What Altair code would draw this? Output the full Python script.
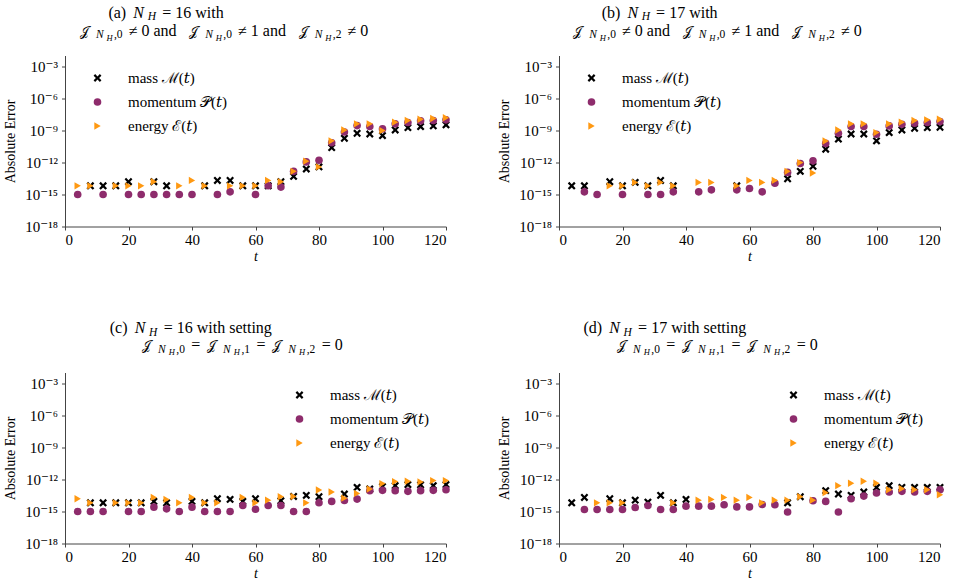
import altair as alt
import pandas as pd

# Sampling times (every 4 time units)
T = list(range(4, 121, 4))
N = None  # no marker drawn at this time

# (a) N_H = 16, general coefficients
a_mass = [N, 6.6e-15, 6.6e-15, 6.6e-15, 1.6e-14, N, 1.6e-14, 6.6e-15, N, N,
          6.6e-15, 2.1e-14, 2.1e-14, 6.6e-15, 6.6e-15, 6.6e-15, 1.6e-14, 5.0e-14, 2.5e-13, 3.9e-13,
          2.5e-11, 1.9e-10, 5.6e-10, 4.8e-10, 3.4e-10, 1.15e-9, 1.9e-9, 2.4e-9, 2.75e-9, 3.5e-9]
a_mom = [1e-15, N, 1e-15, N, 1e-15, 1e-15, 1e-15, 1e-15, 1e-15, 1e-15,
         N, 1e-15, 1.8e-15, N, 1e-15, 6.6e-15, 5.0e-15, 1.5e-13, 1.15e-12, 1.66e-12,
         7.2e-11, 7.4e-10, 2.95e-9, 2.4e-9, 1.45e-9, 4.3e-9, 5.8e-9, 8.3e-9, 8.9e-9, 1.02e-8]
a_energy = [6.6e-15, 6.6e-15, N, 6.6e-15, 6.6e-15, 6.6e-15, 1.6e-14, N, 6.6e-15, 2.1e-14,
            6.6e-15, N, 6.6e-15, 6.6e-15, 6.6e-15, 2.1e-14, 1.6e-14, 1.5e-13, 1.35e-12, 3.9e-13,
            1.1e-10, 1.15e-9, 4.3e-9, 4.3e-9, 1.0e-9, 6.2e-9, 8.9e-9, 1.17e-8, 1.38e-8, 1.6e-8]

# (b) N_H = 17, general coefficients
b_mass = [6.6e-15, 6.6e-15, N, 1.6e-14, 6.6e-15, 1.38e-14, 6.6e-15, 2.1e-14, 6.6e-15, N,
          N, N, N, 6.6e-15, N, N, N, 3.0e-14, 1.5e-13, 4.5e-13,
          1.8e-11, 1.6e-10, 4.8e-10, 4.8e-10, 1.1e-10, 6.5e-10, 1.15e-9, 1.65e-9, 1.9e-9, 2.05e-9]
b_mom = [N, 1.8e-15, 1e-15, N, 1e-15, N, 1e-15, 1e-15, 1.8e-15, N,
         1.8e-15, 2.75e-15, N, 2.75e-15, 3.7e-15, 1.8e-15, 1.17e-14, 1.2e-13, 8.1e-13, 1.45e-12,
         6.3e-11, 5.6e-10, 2.4e-9, 2.4e-9, 4.5e-10, 2.75e-9, 4.0e-9, 5.0e-9, 5.8e-9, 7.1e-9]
b_energy = [N, N, N, 6.6e-15, 6.6e-15, 1.38e-14, 6.6e-15, 1.38e-14, 6.6e-15, N,
            1.38e-14, 1.38e-14, N, 6.6e-15, 2.1e-14, 1.38e-14, 2.1e-14, 1.5e-13, 1.0e-12, 1.05e-13,
            1.05e-10, 1.15e-9, 4.3e-9, 4.3e-9, 6.5e-10, 4.3e-9, 6.2e-9, 8.9e-9, 1.02e-8, 1.17e-8]

# (c) N_H = 16, coefficients set to zero
c_mass = [N, 6.6e-15, 6.6e-15, 6.6e-15, 6.6e-15, 6.6e-15, 8.9e-15, 6.6e-15, N, 8.9e-15,
          6.6e-15, 1.6e-14, 1.38e-14, 8.9e-15, 1.6e-14, N, 1.02e-14, 2.6e-14, 3.3e-14, 2.45e-14,
          N, 4.4e-14, 1.85e-13, 1.3e-13, 2.2e-13, 2.7e-13, 3.4e-13, 3.2e-13, 2.7e-13, 3.4e-13]
c_mom = [1e-15, 1e-15, 1e-15, N, 1e-15, 1e-15, 2.6e-15, 1.8e-15, 1e-15, 2.6e-15,
         1e-15, 1e-15, 1e-15, 3.7e-15, 1.66e-15, 3.7e-15, 3.7e-15, 1e-15, 1e-15, 6.6e-15,
         8.9e-15, 1.1e-14, 1.48e-14, 9.1e-14, 9.8e-14, 9.1e-14, 7.9e-14, 9.1e-14, 9.8e-14, 1.12e-13]
c_energy = [1.6e-14, 6.6e-15, N, 6.6e-15, 6.6e-15, 6.6e-15, 2.1e-14, 1.38e-14, 6.6e-15, 2.1e-14,
            6.6e-15, 6.6e-15, N, 2.1e-14, 6.6e-15, 1.17e-14, 2.45e-14, 2.6e-14, 6.6e-15, 1.05e-13,
            6.8e-14, 1.8e-14, 5.0e-14, 1.3e-13, 4.2e-13, 6.5e-13, 6.9e-13, 6.0e-13, 8.0e-13, 8.0e-13]

# (d) N_H = 17, coefficients set to zero
d_mass = [6.6e-15, 2.1e-14, N, 1.6e-14, 6.6e-15, 1.17e-14, 7.6e-15, 3.3e-14, 6.6e-15, 1.38e-14,
          N, N, N, N, N, N, N, 6.6e-15, 2.45e-14, N,
          9.1e-14, 4.4e-14, 3.3e-14, 6.8e-14, 1.85e-13, 2.7e-13, 1.85e-13, 1.85e-13, 1.85e-13, 1.85e-13]
d_mom = [N, 1.55e-15, 1.55e-15, 1.55e-15, 1.55e-15, 2.4e-15, 3.7e-15, 1.55e-15, 1.55e-15, 3.2e-15,
         3.2e-15, 3.2e-15, 4.3e-15, 2.75e-15, 2.75e-15, 4.6e-15, 4.3e-15, 9e-16, N, 1.02e-14,
         8.9e-15, 9e-16, 1.6e-14, 2.8e-14, 5.5e-14, 6.8e-14, 7.9e-14, 6.8e-14, 7.9e-14, 1.12e-13]
d_energy = [N, N, 6.6e-15, 6.6e-15, 6.6e-15, N, N, N, 6.6e-15, N,
            1.17e-14, 1.38e-14, 2.1e-14, 1.17e-14, 2.1e-14, 6.6e-15, 1.17e-14, 1.17e-14, 2.45e-14, 1.17e-14,
            5.9e-14, 2.7e-13, 4.5e-13, 6.9e-13, 4.5e-13, 1.12e-13, 1.4e-13, 1.12e-13, 1.12e-13, 3.8e-14]

SERIES = ["mass \u2133(\U0001D461)", "momentum \U0001D4AB(\U0001D461)", "energy \u2130(\U0001D461)"]
COLORS = ["#000000", "#8e2c6c", "#ff9912"]
X_PATH = ("M-0.6,-1L0,-0.4L0.6,-1L1,-0.6L0.4,0L1,0.6L0.6,1L0,0.4"
          "L-0.6,1L-1,0.6L-0.4,0L-1,-0.6Z")
SHAPES = [X_PATH, "circle", "triangle-right"]
SIZES = [62, 54, 78]

FONT = "Liberation Serif, DejaVu Serif, serif"
W, H = 381, 171
YTOP = 10 ** -1.95
YTICKS = [1e-18, 1e-15, 1e-12, 1e-9, 1e-6, 1e-3]

SUPER = str.maketrans("-0123456789", "\u207b\u2070\u00b9\u00b2\u00b3\u2074\u2075\u2076\u2077\u2078\u2079")


def tick_expr():
    parts = []
    for e in [-18, -15, -12, -9, -6, -3]:
        parts.append(f"round(log(datum.value)/LN10)=={e}?'10{str(e).translate(SUPER)}'")
    return ":".join(parts) + ":''"


def frame(mass, mom, energy):
    rows = []
    for k, vals in enumerate([mass, mom, energy]):
        for t, v in zip(T, vals):
            if v is not None:
                rows.append({"t": t, "err": v, "series": SERIES[k], "ord": k})
    return pd.DataFrame(rows)


# approximate advance widths (per 1000 em) used to lay out title pieces
TW = {" ": 250, "(": 333, ")": 333, ",": 250, "=": 564, "\u2260": 564, "a": 444, "b": 500,
      "c": 444, "d": 500, "e": 444, "g": 500, "h": 500, "i": 278, "n": 500, "s": 389,
      "t": 278, "w": 722, "N": 780, "H": 760, "J": 444, "\U0001D4A5": 1050}
LEVEL_SIZE = {0: 16, 1: 11.5, 2: 8.5, 3: 13}
LEVEL_DY = {0: 0, 1: 2.5, 2: 5, 3: 0}
ONE = pd.DataFrame({"k": [0]})


def seg_width(text, level):
    return sum(TW.get(c, 500) for c in text) / 1000 * LEVEL_SIZE[level]


def title_line(segs, x0, yb, span):
    widths = [seg_width(s, lv) for s, lv, _ in segs]
    k = span / sum(widths)
    layers = []
    x = x0
    for (text, level, italic), w in zip(segs, widths):
        lead = len(text) - len(text.lstrip(" "))
        xs = x + seg_width(" " * lead, level) * k
        layers.append(
            alt.Chart(ONE).mark_text(
                align="left", baseline="alphabetic", font=FONT,
                fontSize=LEVEL_SIZE[level], fontStyle="italic" if italic else "normal",
                color="black",
            ).encode(x=alt.value(xs), y=alt.value(yb + LEVEL_DY[level]),
                     text=alt.value(text.strip(" ")))
        )
        x += w * k
    return layers


def nh():
    return [("N", 0, True), ("H", 1, True)]


def jgroup(k):
    # script J (level 3: slightly smaller main size), N_H subscript, index
    return [("\U0001D4A5", 3, False), ("N", 1, True), ("H", 2, True), (f",{k}", 1, False)]


def panel(df, lines, leg_x, leg_y):
    legend = alt.Legend(
        title=None, orient="none", legendX=leg_x, legendY=leg_y,
        labelFont=FONT, labelFontSize=15, labelColor="black", labelOffset=23,
        rowPadding=8, symbolStrokeWidth=0, symbolOpacity=1, padding=0,
    )
    pts = alt.Chart(df).mark_point(filled=True, opacity=1, strokeWidth=0).encode(
        x=alt.X("t:Q", title="t",
                scale=alt.Scale(domain=[0, 120], nice=False, zero=False),
                axis=alt.Axis(values=[0, 20, 40, 60, 80, 100, 120], titleFontStyle="italic",
                              labelFont=FONT, titleFont=FONT, labelFontSize=15,
                              labelPadding=2, titlePadding=2)),
        y=alt.Y("err:Q", title="Absolute Error",
                scale=alt.Scale(type="log", domain=[1e-18, YTOP], nice=False),
                axis=alt.Axis(values=YTICKS, labelExpr=tick_expr(), labelPadding=4,
                              labelFont=FONT, titleFont=FONT, labelFontSize=15,
                              titleX=-48, titleY=H / 2)),
        color=alt.Color("series:N", scale=alt.Scale(domain=SERIES, range=COLORS), legend=legend),
        shape=alt.Shape("series:N", scale=alt.Scale(domain=SERIES, range=SHAPES), legend=legend),
        size=alt.Size("series:N", scale=alt.Scale(domain=SERIES, range=SIZES), legend=legend),
        order=alt.Order("ord:Q"),
    )
    texts = []
    for segs, x0, yb, span in lines:
        texts += title_line(segs, x0, yb, span)
    return alt.layer(pts, *texts).properties(width=W, height=H)


top2 = jgroup(0) + [(" \u2260 0 and ", 0, False)] + jgroup(0) + [(" \u2260 1 and ", 0, False)] \
    + jgroup(2) + [(" \u2260 0", 0, False)]
bot2 = jgroup(0) + [(" = ", 0, False)] + jgroup(1) + [(" = ", 0, False)] + jgroup(2) \
    + [(" = 0", 0, False)]

pa = panel(frame(a_mass, a_mom, a_energy),
           [([("(a) ", 0, False)] + nh() + [(" = 16 with", 0, False)], 43.4, -38, 124.3),
            (top2, 15.0, -20, 292)], 25, 15)
pb = panel(frame(b_mass, b_mom, b_energy),
           [([("(b) ", 0, False)] + nh() + [(" = 17 with", 0, False)], 42.7, -38, 124.3),
            (top2, 14.4, -20, 292)], 25, 15)
pc = panel(frame(c_mass, c_mom, c_energy),
           [([("(c) ", 0, False)] + nh() + [(" = 16 with setting", 0, False)], 44.7, -39.5, 178.3),
            (bot2, 76.7, -22.5, 205)], 227, 15)
pd_ = panel(frame(d_mass, d_mom, d_energy),
            [([("(d) ", 0, False)] + nh() + [(" = 17 with setting", 0, False)], 24.4, -39.5, 178.3),
             (bot2, 57.7, -22.5, 205)], 227, 15)

chart = alt.concat(
    pa, pb, pc, pd_, columns=2, spacing={"row": 146, "column": 113}
).properties(
    bounds="flush", padding={"left": 3, "top": 4.5, "right": 5, "bottom": 5}
).resolve_legend(
    color="independent", shape="independent", size="independent"
).configure_view(stroke=None).configure_axis(
    labelFont=FONT, labelFontSize=15, labelColor="black",
    titleFont=FONT, titleFontSize=14, titleColor="black", titleFontWeight="normal",
    domainColor="#444444", tickColor="#444444", tickSize=3.5, grid=False,
)

chart.save("out.html", embed_options={"renderer": "svg", "actions": False})
